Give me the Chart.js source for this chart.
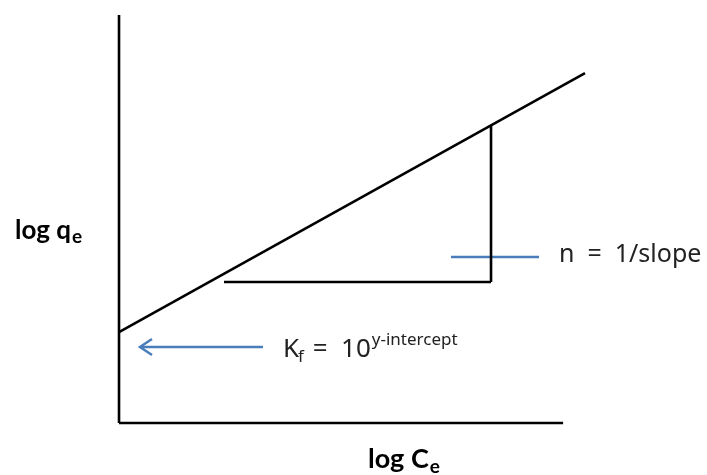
<!DOCTYPE html>
<html>
<head>
<meta charset="utf-8">
<script src="https://cdn.jsdelivr.net/npm/chart.js@4"></script>
<style>
  html, body { margin: 0; padding: 0; background: #ffffff; }
  #wrap { width: 707px; height: 475px; }
</style>
</head>
<body>
<div id="wrap"><canvas id="c" width="707" height="475"></canvas></div>
<script>
// Freundlich isotherm sketch: log qe against log Ce (arbitrary units)
const axisX = [[0, 0], [9.53, 0]];          // log Ce axis
const axisY = [[0, 0], [0, 8.755]];         // log qe axis
const intercept = 1.95;
const slope = 0.556;
const fitX = [0, 10];
const fitY = [intercept, intercept + slope * 10];
const runX = [2.253, 7.983];                // horizontal leg of slope triangle
const runY = [3.026, 3.026];
const riseX = [7.983, 7.983];               // vertical leg of slope triangle
const riseY = [3.026, intercept + slope * 7.983];
const kfArrowX = [0.45, 3.09];              // pointer to the intercept
const kfArrowY = [1.631, 1.631];
const nPointerX = [7.124, 9.013];           // pointer to the slope
const nPointerY = [3.562, 3.562];

const labels = {
  y: ['log q', 'e'],
  x: ['log C', 'e'],
  kf: ['K', 'f', ' =  10', 'y-intercept'],
  n: 'n  =  1/slope'
};

const toPts = (xs, ys) => xs.map((x, i) => ({ x: x, y: ys[i] }));
const blue = '#4a7ebb';
const seg = (data, color, width) => ({
  data: data, borderColor: color, borderWidth: width, showLine: true,
  pointRadius: 0, fill: false, tension: 0, borderCapStyle: 'butt'
});

// draws text pieces left to right: [text, font, baseline offset, gap after]
function runText(ctx, x, y, parts) {
  parts.forEach(p => {
    ctx.font = p[1];
    ctx.fillText(p[0], x, y + p[2]);
    x += ctx.measureText(p[0]).width + p[3];
  });
}

const annot = {
  id: 'annot',
  afterDatasetsDraw(chart) {
    const ctx = chart.ctx;
    const xs = chart.scales.x, ys = chart.scales.y;
    ctx.save();
    // arrow head at the left end of the Kf pointer
    const tx = xs.getPixelForValue(kfArrowX[0]);
    const ty = ys.getPixelForValue(kfArrowY[0]);
    ctx.strokeStyle = blue;
    ctx.lineWidth = 2.5;
    ctx.beginPath();
    ctx.moveTo(tx + 12, ty - 8);
    ctx.lineTo(tx, ty);
    ctx.lineTo(tx + 12, ty + 8);
    ctx.stroke();

    ctx.textBaseline = 'alphabetic';
    ctx.textAlign = 'left';

    // axis titles
    ctx.fillStyle = '#000';
    runText(ctx, 15, 239, [
      [labels.y[0], 'bold 26px Lato', 0, 1],
      [labels.y[1], 'bold 19px Lato', 4, 0]
    ]);
    runText(ctx, 368, 468, [
      [labels.x[0], 'bold 27px Lato', 0, 1],
      [labels.x[1], 'bold 19px Lato', 5, 0]
    ]);

    // Kf expression and slope note
    ctx.fillStyle = '#222';
    runText(ctx, 283, 357, [
      [labels.kf[0], '26px "Noto Sans"', 0, -1],
      [labels.kf[1], '17px "Noto Sans"', 5, 2],
      [labels.kf[2], '26px "Noto Sans"', 0, 1],
      [labels.kf[3], '17px "Noto Sans"', -12, 0]
    ]);
    runText(ctx, 559, 262, [[labels.n, '25px "Noto Sans"', 0, 0]]);
    ctx.restore();
  }
};

new Chart(document.getElementById('c'), {
  type: 'scatter',
  data: {
    datasets: [
      seg(axisY.map(p => ({ x: p[0], y: p[1] })), '#000', 2.6),
      seg(axisX.map(p => ({ x: p[0], y: p[1] })), '#000', 2.6),
      seg(toPts(fitX, fitY), '#000', 2.6),
      seg(toPts(runX, runY), '#000', 2.6),
      seg(toPts(riseX, riseY), '#000', 2.6),
      seg(toPts(kfArrowX, kfArrowY), blue, 2.5),
      seg(toPts(nPointerX, nPointerY), blue, 2.5)
    ]
  },
  options: {
    responsive: false,
    animation: false,
    layout: { padding: 0 },
    plugins: { legend: { display: false }, tooltip: { enabled: false } },
    scales: {
      x: { type: 'linear', display: false, min: -2.554, max: 12.618 },
      y: { type: 'linear', display: false, min: -1.116, max: 9.077 }
    }
  },
  plugins: [annot]
});
</script>
</body>
</html>
